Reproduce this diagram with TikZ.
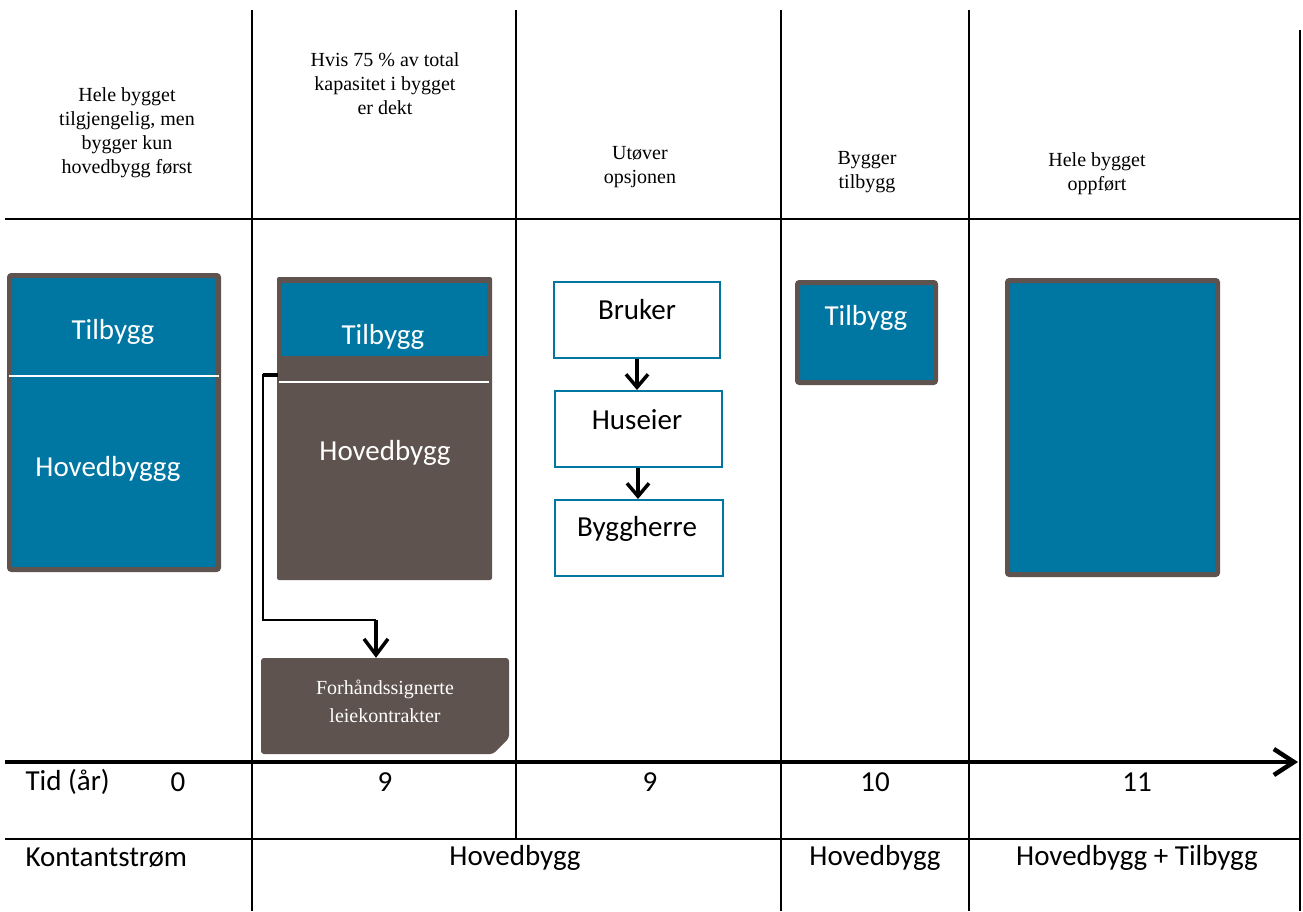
\documentclass[tikz,border=0pt]{standalone}
\usepackage{fontspec}
\setmainfont{Liberation Serif}
\newfontfamily\calib{Carlito}
\usetikzlibrary{arrows.meta}
\definecolor{tealblue}{RGB}{0,118,163}
\definecolor{earth}{RGB}{94,83,78}

\begin{document}
\begin{tikzpicture}[x=1pt,y=-1pt,
  grid/.style={line width=2pt},
  head/.style={font=\fontsize{20}{24}\selectfont, align=center},
  cal/.style={font=\calib\fontsize{29}{34}\selectfont},
  wcal/.style={cal, text=white},
  framed/.style={draw=earth, line width=5pt, fill=tealblue, rounded corners=2pt, inner sep=0pt},
  flowbox/.style={draw=tealblue, line width=2pt, fill=white, inner sep=0pt},
  flowarrow/.style={line width=3.5pt, -{Straight Barb[length=13pt,width=22pt,line width=3.5pt]}}
]
\useasboundingbox (0,0) rectangle (1303,911);

% column grid
\draw[grid] (252,10) -- (252,911);
\draw[grid] (516,10) -- (516,839);
\draw[grid] (781,10) -- (781,911);
\draw[grid] (969,10) -- (969,911);
\draw[grid] (1300,30) -- (1300,911);
\draw[line width=2.5pt] (5,219) -- (1300,219);
\draw[grid] (5,839) -- (1300,839);

% column headings
\node[head] (h1) at (127,133) {Hele bygget\\tilgjengelig, men\\bygger kun\\hovedbygg først};
\node[head] (h2) at (385,84) {Hvis 75 \% av total\\kapasitet i bygget\\er dekt};
\node[head] (h3) at (640,167.5) {Utøver\\opsjonen};
\node[head] (h4) at (867,172.5) {Bygger\\tilbygg};
\node[head] (h5) at (1097,174) {Hele bygget\\oppført};

% year 0: whole building
\node[framed, minimum width=209pt, minimum height=294pt] (c1box) at (114,422.5) {};
\draw[white, line width=2pt] (9,376) -- (219,376);
\node[wcal] (c1top) at (113,332) {Tilbygg};
\node[wcal] (c1main) at (108,469) {Hovedbyggg};

% year 9: main building
\node[fill=earth, rounded corners=2pt, inner sep=0pt, minimum width=215pt, minimum height=303pt] (c2box) at (384.5,428.5) {};
\node[fill=tealblue, inner sep=0pt, minimum width=205pt, minimum height=73pt] (c2top) at (384.5,319.5) {};
\draw[white, line width=2pt] (279,382) -- (489,382);
\node[wcal] (c2toplbl) at (383,337) {Tilbygg};
\node[wcal] (c2mainlbl) at (385,453) {Hovedbygg};

% pre-signed leases: box with a snipped lower right corner
\fill[earth, rounded corners=3pt] (261,658) -- (509,658) -- (509,738) -- (493,754) -- (261,754) -- cycle;
\node[inner sep=0pt, minimum width=248pt, minimum height=96pt] (lease) at (385,706) {};
\node[text=white, font=\fontsize{20}{28}\selectfont, align=center] (leaselbl) at (385,701)
  {Forhåndssignerte\\leiekontrakter};

\coordinate (c2tap) at (278,375);
\coordinate (bend) at (376,620);
\draw[line width=3.5pt] (c2tap) -- ++(-15,0);
\draw[line width=1.3pt] (c2tap) -- ++(-15,0) |- (bend);
\draw[flowarrow, -{Straight Barb[length=16pt,width=24pt,line width=3.5pt]}] (bend) -- (bend |- lease.north);

% year 9: option chain
\node[flowbox, minimum width=166pt, minimum height=76pt] (bruker) at (637,320) {};
\node[flowbox, minimum width=167pt, minimum height=76pt] (huseier) at (638,429) {};
\node[flowbox, minimum width=168pt, minimum height=76pt] (byggherre) at (638.5,538) {};
\node[cal] (brukerlbl) at (637,310) {Bruker};
\node[cal] (huseierlbl) at (637,420) {Huseier};
\node[cal] (byggherrelbl) at (637,529) {Byggherre};
\draw[flowarrow] (bruker.south) -- (bruker.south |- huseier.north);
\draw[flowarrow] (huseier.south) -- (huseier.south |- byggherre.north);

% year 10: extension
\node[framed, minimum width=138pt, minimum height=100pt] (c4box) at (866.5,332.5) {};
\node[wcal] (c4lbl) at (866,318) {Tilbygg};

% year 11: complete building
\node[framed, minimum width=210pt, minimum height=294pt] (c5box) at (1112.5,427.5) {};

% time axis
\coordinate (axisL) at (5,762);
\coordinate (axisR) at (1298,762);
\draw[line width=4.5pt, -{Straight Barb[length=20pt,width=26pt,line width=4.5pt]}] (axisL) -- (axisR);

% table rows
\node[cal, anchor=west] (tid) at (22,782) {Tid (år)};
\node[cal] (t0) at (178,782) {0};
\node[cal] (t1) at (385,782) {9};
\node[cal] (t2) at (650,782) {9};
\node[cal] (t3) at (875,782) {10};
\node[cal] (t4) at (1137,782) {11};
\node[cal, anchor=west] (kontant) at (22,858) {Kontantstrøm};
\node[cal] (k1) at (515,858) {Hovedbygg};
\node[cal] (k2) at (875,858) {Hovedbygg};
\node[cal] (k3) at (1137,858) {Hovedbygg + Tilbygg};
\end{tikzpicture}
\end{document}
